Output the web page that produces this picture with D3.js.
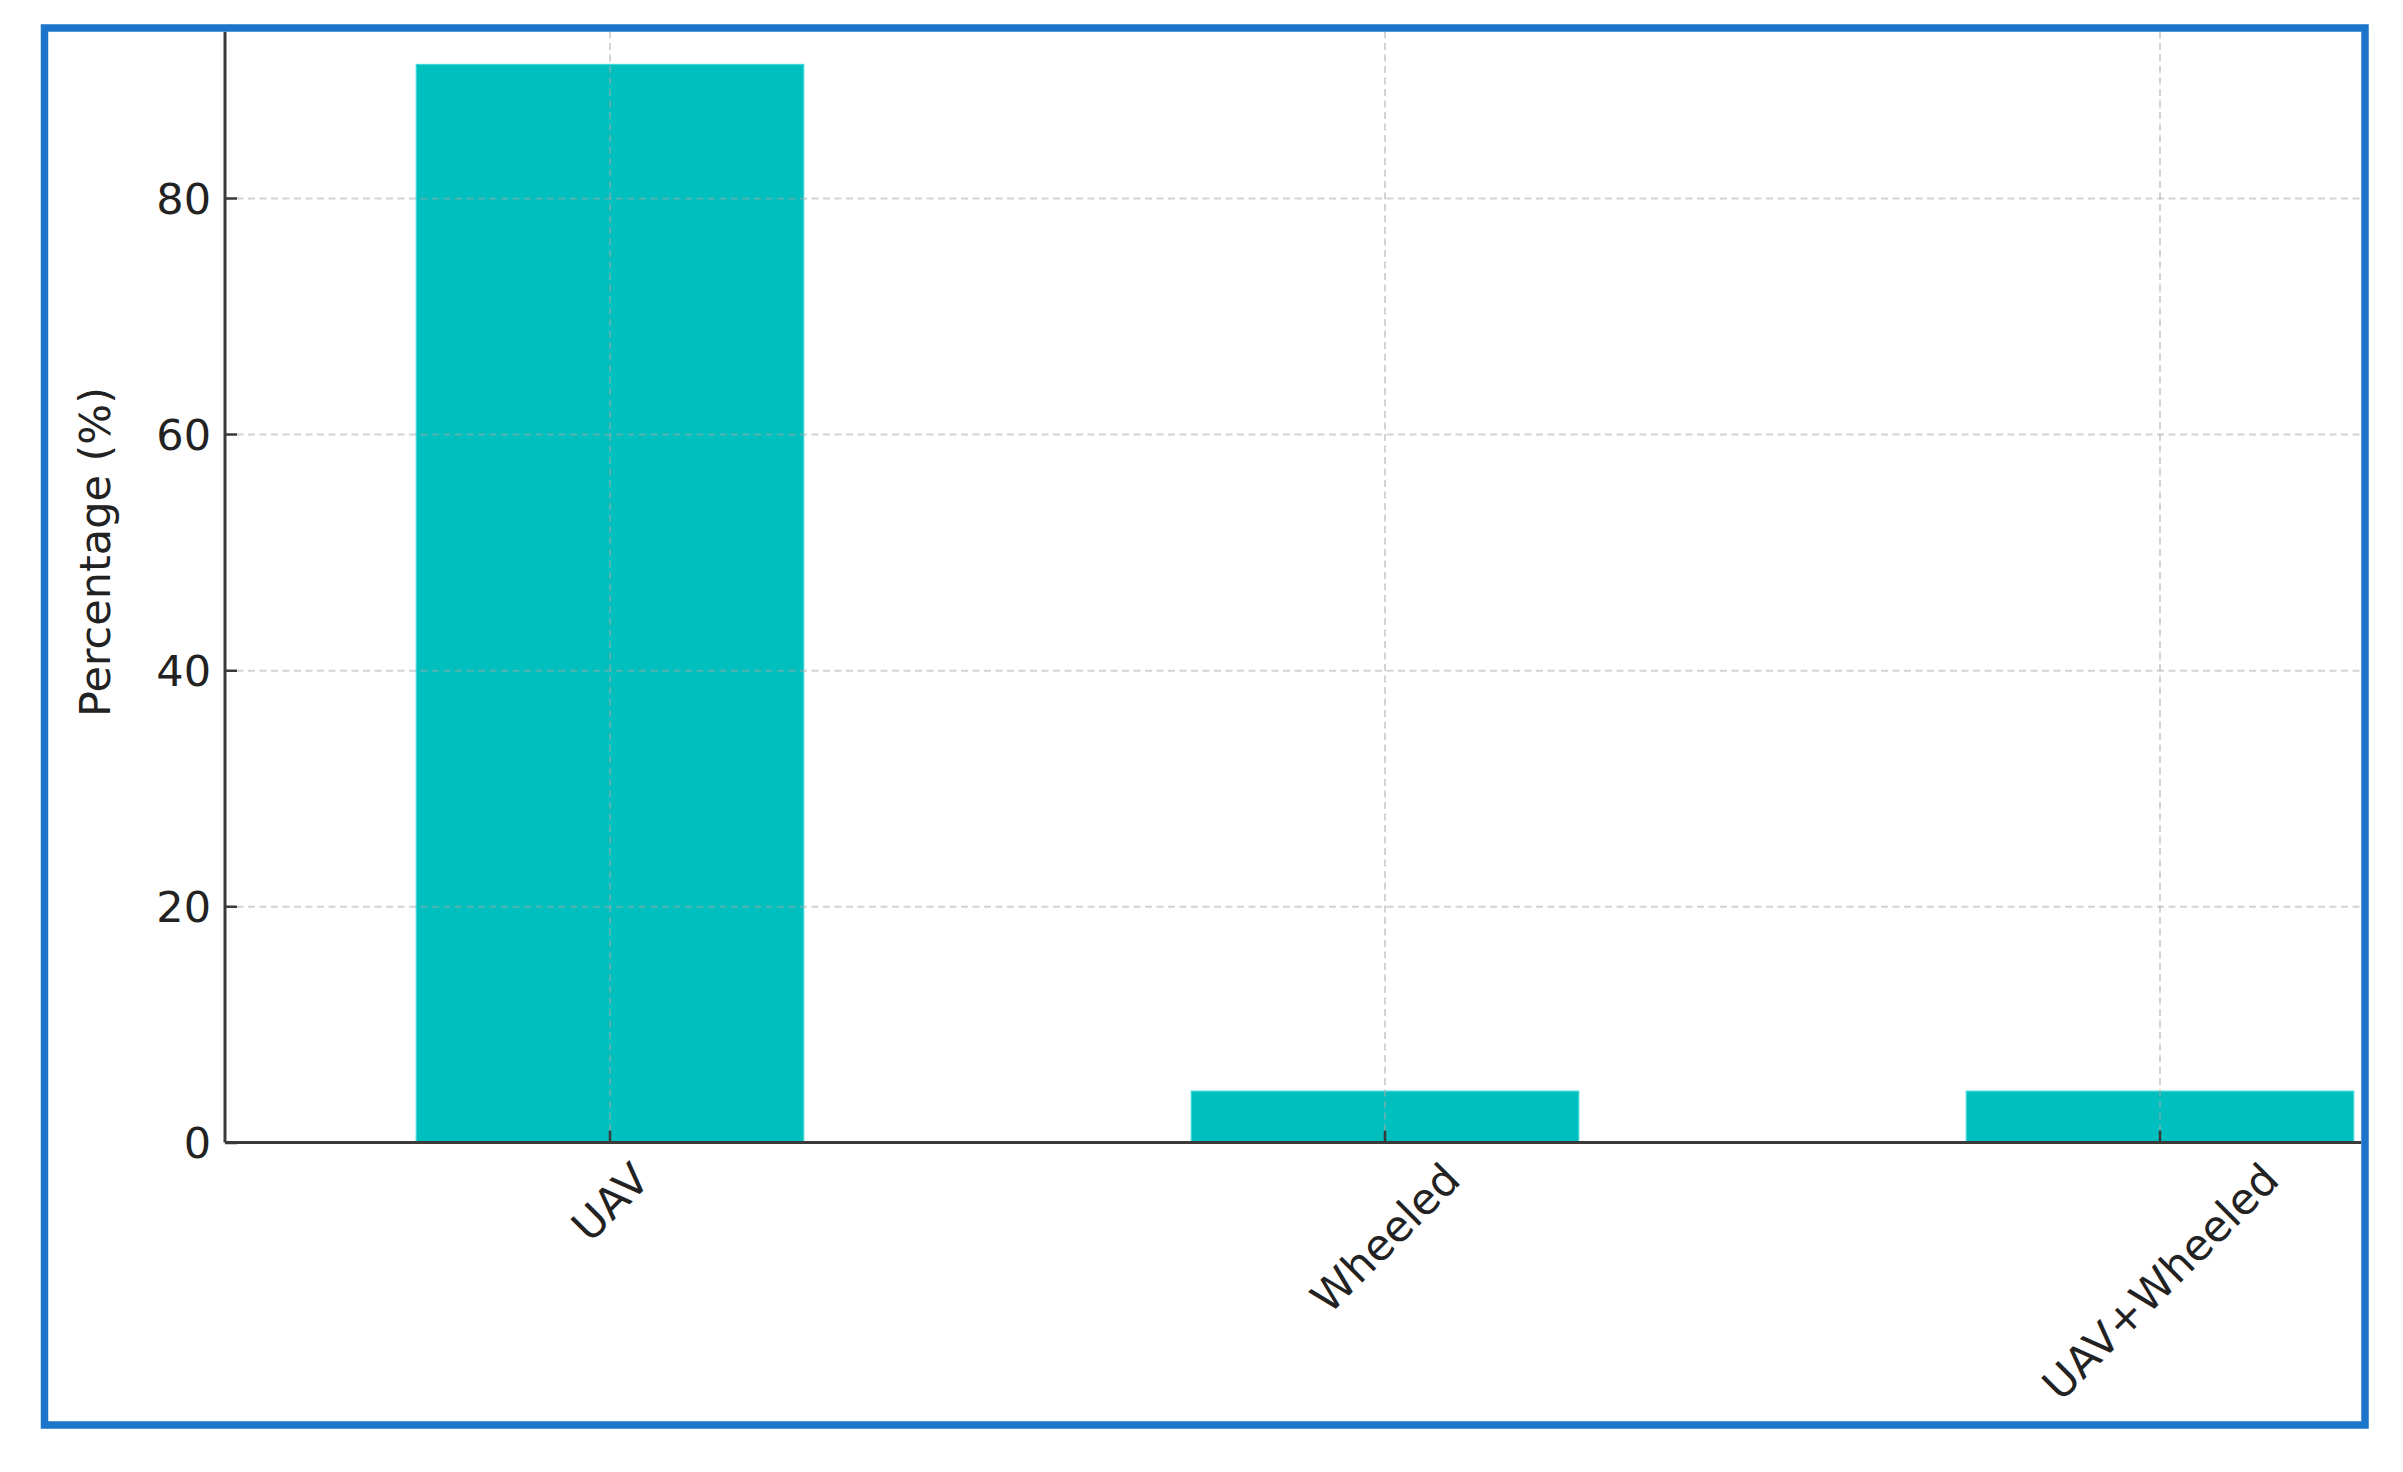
<!DOCTYPE html>
<html>
<head>
<meta charset="utf-8">
<script src="https://cdn.jsdelivr.net/npm/d3@7/dist/d3.min.js"></script>
<style>
  html, body { margin: 0; padding: 0; background: #ffffff; }
  svg { display: block; }
  text { font-family: "DejaVu Sans", sans-serif; fill: #222222; }
</style>
</head>
<body>
<svg id="chart" width="2403" height="1472"></svg>
<script>
// ---- data ----
const categories = ["UAV", "Wheeled", "UAV+Wheeled"];
const percentages = [91.3, 4.35, 4.35];
const yTickValues = [0, 20, 40, 60, 80];
const yAxisLabel = "Percentage (%)";

// ---- layout ----
const W = 2403, H = 1472;
const frame = { x: 44.5, y: 28, w: 2320.5, h: 1397, stroke: 7.5 };
const plot = { left: 222.5, right: 2547.5, top: 10.5, bottom: 1142.5 };
const fontSize = 43;
const barColor = "#00BFBF";

const svg = d3.select("#chart");
svg.append("rect").attr("width", W).attr("height", H).attr("fill", "#ffffff");

svg.append("defs").append("clipPath").attr("id", "frameClip")
  .append("rect")
  .attr("x", frame.x + frame.stroke / 2)
  .attr("y", frame.y + frame.stroke / 2)
  .attr("width", frame.w - frame.stroke)
  .attr("height", frame.h - frame.stroke);

const g = svg.append("g").attr("clip-path", "url(#frameClip)");

const x = d3.scaleBand()
  .domain(categories)
  .range([plot.left, plot.right])
  .paddingInner(0.5)
  .paddingOuter(0.25);

const y = d3.scaleLinear()
  .domain([0, 95.87])
  .range([plot.bottom, plot.top]);

const axisX0 = 225; // y-axis spine position (x = -0.5 in data units)

// bars
g.append("g").selectAll("rect")
  .data(categories)
  .join("rect")
  .attr("x", d => x(d))
  .attr("width", x.bandwidth())
  .attr("y", (d, i) => y(percentages[i]))
  .attr("height", (d, i) => y(0) - y(percentages[i]))
  .attr("fill", barColor)
  .attr("stroke", "#3fd9d9")
  .attr("stroke-width", 1.2);

// grid lines (drawn over bars, faint)
const gridY = g.append("g")
  .attr("transform", `translate(${axisX0},0)`)
  .call(d3.axisRight(y).tickValues(yTickValues.filter(v => v > 0)).tickSize(plot.right - axisX0).tickFormat(""));
gridY.select(".domain").remove();
gridY.selectAll("line")
  .attr("stroke", "#a8a8a8").attr("stroke-opacity", 0.5)
  .attr("stroke-width", 2).attr("stroke-dasharray", "7,4.5");

const gridX = g.append("g")
  .attr("transform", `translate(0,${plot.bottom})`)
  .call(d3.axisTop(x).tickSize(plot.bottom - plot.top).tickFormat(""));
gridX.select(".domain").remove();
gridX.selectAll("line")
  .attr("stroke", "#a8a8a8").attr("stroke-opacity", 0.5)
  .attr("stroke-width", 2).attr("stroke-dasharray", "7,4.5");

// y axis (ticks pointing inward)
const yAxis = g.append("g")
  .attr("transform", `translate(${axisX0},0)`)
  .call(d3.axisLeft(y).tickValues(yTickValues).tickSize(-12).tickPadding(14).tickFormat(d3.format("d")));
yAxis.select(".domain").attr("stroke", "#3a3a3a").attr("stroke-width", 3)
  .attr("d", `M0,${plot.top}V${plot.bottom}`);
yAxis.selectAll(".tick line").attr("stroke", "#3a3a3a").attr("stroke-width", 2.5);
yAxis.selectAll(".tick text")
  .attr("font-size", fontSize)
  .attr("font-family", "DejaVu Sans")
  .attr("fill", "#222222")
  .attr("dy", "0.36em");

// x axis (ticks pointing inward)
const xAxis = g.append("g")
  .attr("transform", `translate(0,${plot.bottom})`)
  .call(d3.axisBottom(x).tickSize(-12).tickFormat(""));
xAxis.select(".domain").attr("stroke", "#3a3a3a").attr("stroke-width", 3)
  .attr("d", `M${axisX0},0H${plot.right}`);
xAxis.selectAll(".tick line").attr("stroke", "#3a3a3a").attr("stroke-width", 2.5);

// rotated category labels: rotated box top at fixed offset below axis, centred on tick
const labelTop = 1160;
const capH = fontSize * 0.73;
const labels = svg.append("g").selectAll("text")
  .data(categories)
  .join("text")
  .attr("font-size", fontSize)
  .attr("text-anchor", "middle")
  .attr("dy", "0.36em")
  .text(d => d);
labels.each(function(d) {
  const w = this.getComputedTextLength();
  const cx = x(d) + x.bandwidth() / 2;
  const cy = labelTop + (w + capH) / (2 * Math.SQRT2);
  d3.select(this).attr("transform", `translate(${cx},${cy}) rotate(-45)`);
});

// y axis label
svg.append("text")
  .attr("font-size", fontSize)
  .attr("text-anchor", "middle")
  .attr("dy", "0.36em")
  .attr("transform", `translate(95,552) rotate(-90)`)
  .text(yAxisLabel);

// blue frame
svg.append("rect")
  .attr("x", frame.x).attr("y", frame.y)
  .attr("width", frame.w).attr("height", frame.h)
  .attr("fill", "none")
  .attr("stroke", "#1A75CB")
  .attr("stroke-width", frame.stroke);
</script>
</body>
</html>
